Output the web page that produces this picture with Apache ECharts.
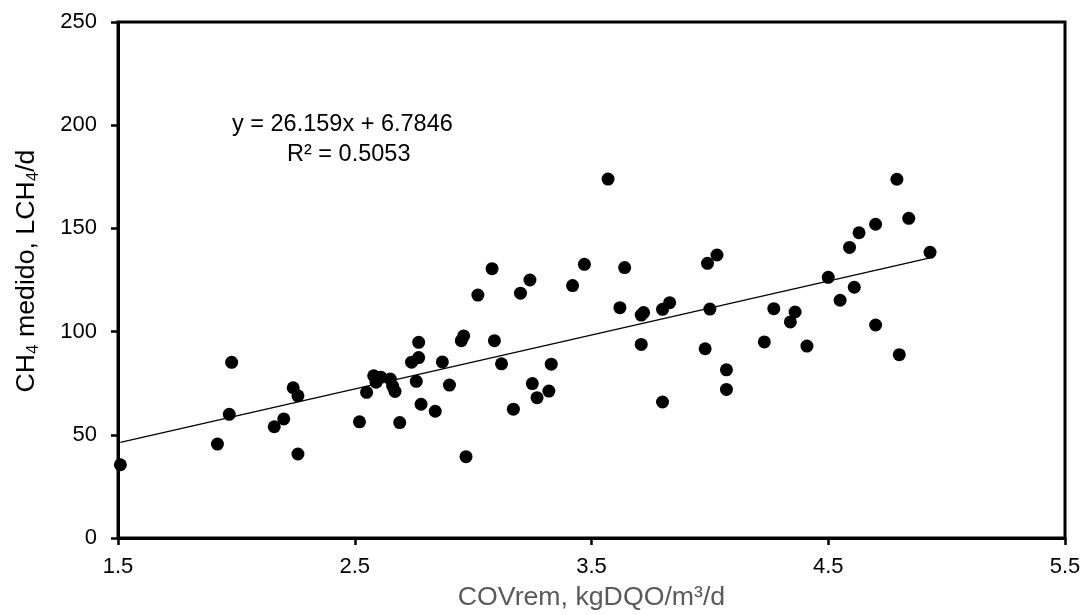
<!DOCTYPE html>
<html>
<head>
<meta charset="utf-8">
<script src="https://cdn.jsdelivr.net/npm/echarts@6/dist/echarts.min.js"></script>
<style>html,body{margin:0;padding:0;background:#fff;}#c{width:1084px;height:615px;}</style>
</head>
<body>
<div id="c"></div>
<script>
var covRem = [1.51,1.92,1.98,1.97,2.16,2.20,2.24,2.26,2.26,2.52,2.55,2.58,2.61,2.59,2.65,2.66,2.67,2.69,2.74,2.77,2.77,2.76,2.78,2.84,2.87,2.90,2.96,2.95,2.97,3.09,3.12,3.17,3.25,3.27,3.32,3.33,3.02,3.08,3.20,3.24,3.57,3.47,3.64,3.42,3.62,3.72,3.71,3.83,3.80,3.99,4.03,4.00,3.71,3.98,3.80,4.07,4.07,4.27,4.23,4.34,4.36,4.41,4.50,4.55,4.59,4.61,4.63,4.70,4.70,4.79,4.80,4.84,4.93];
var ch4Medido = [35.5,45.5,85.1,59.9,53.9,57.7,72.8,68.9,40.7,56.3,70.6,78.6,77.9,75.5,77.0,73.6,71.0,55.9,85.2,87.4,94.8,75.9,64.8,61.4,85.3,74.1,97.9,95.6,39.4,95.6,84.4,62.4,74.8,68.0,71.2,84.2,117.7,130.5,118.6,125.0,173.9,132.6,131.0,122.3,111.6,109.2,108.0,114.0,110.8,133.1,137.1,110.9,93.8,91.7,65.9,81.5,72.0,111.1,95.0,104.7,109.5,93.0,126.3,115.2,140.8,121.5,147.9,152.0,103.2,173.8,88.8,154.9,138.4];
var slope = 26.159, intercept = 6.7846, r2 = 0.5053;
var xTicks = [1.5, 2.5, 3.5, 4.5, 5.5];
var yTicks = [0, 50, 100, 150, 200, 250];

var points = covRem.map(function(x, i){ return [x, ch4Medido[i]]; });
var xMin = Math.min.apply(null, covRem), xMax = Math.max.apply(null, covRem);
var trend = [[xMin, slope*xMin+intercept],[xMax, slope*xMax+intercept]];

var chart = echarts.init(document.getElementById('c'));
var font = 'Liberation Sans, Arial, sans-serif';
chart.setOption({
  animation: false,
  grid: {left: 118, right: 19, top: 22, bottom: 77, show: true, borderColor: '#000', borderWidth: 3, containLabel: false, outerBoundsMode: 'none'},
  xAxis: {
    type: 'value', min: xTicks[0], max: xTicks[xTicks.length-1], interval: 1,
    axisLine: {show: true, onZero: false, lineStyle: {color: '#000', width: 3}},
    axisTick: {show: true, inside: false, length: 7, lineStyle: {color: '#000', width: 2.5}},
    axisLabel: {color: '#000', fontFamily: font, fontSize: 22, margin: 18, formatter: function(v){ return v.toFixed(1); }},
    splitLine: {show: false},
    name: 'COVrem, kgDQO/m³/d', nameLocation: 'middle', nameGap: 46,
    nameTextStyle: {color: '#595959', fontFamily: font, fontSize: 26.7}
  },
  yAxis: {
    type: 'value', min: yTicks[0], max: yTicks[yTicks.length-1], interval: 50,
    axisLine: {show: true, lineStyle: {color: '#000', width: 3}},
    axisTick: {show: true, inside: false, length: 7, lineStyle: {color: '#000', width: 2.5}},
    axisLabel: {color: '#000', fontFamily: font, fontSize: 22, margin: 21},
    splitLine: {show: false},
    name: '{a|CH}{s|4}{a| medido, LCH}{s|4}{a|/d}', nameLocation: 'middle', nameGap: 76, nameRotate: 90,
    nameTextStyle: {
      padding: [0, 0, 0, 18],
      rich: {
        a: {color: '#000', fontFamily: font, fontSize: 26.7, lineHeight: 30},
        s: {color: '#000', fontFamily: font, fontSize: 17, lineHeight: 30, padding: [12, 0, 0, 0]}
      }
    }
  },
  series: [
    {type: 'line', data: trend, showSymbol: false, symbol: 'none', lineStyle: {color: '#000', width: 1.3}, z: 2},
    {type: 'scatter', data: points, symbol: 'circle', symbolSize: 13, itemStyle: {color: '#000', opacity: 1}, z: 3}
  ],
  graphic: [
    {type: 'text', x: 232, y: 125, style: {text: 'y = ' + slope + 'x + ' + intercept, fontFamily: font, fontSize: 23.5, fill: '#000', verticalAlign: 'middle', align: 'left'}},
    {type: 'text', x: 287, y: 155, style: {text: 'R² = ' + r2, fontFamily: font, fontSize: 23.5, fill: '#000', verticalAlign: 'middle', align: 'left'}}
  ]
});
</script>
</body>
</html>
